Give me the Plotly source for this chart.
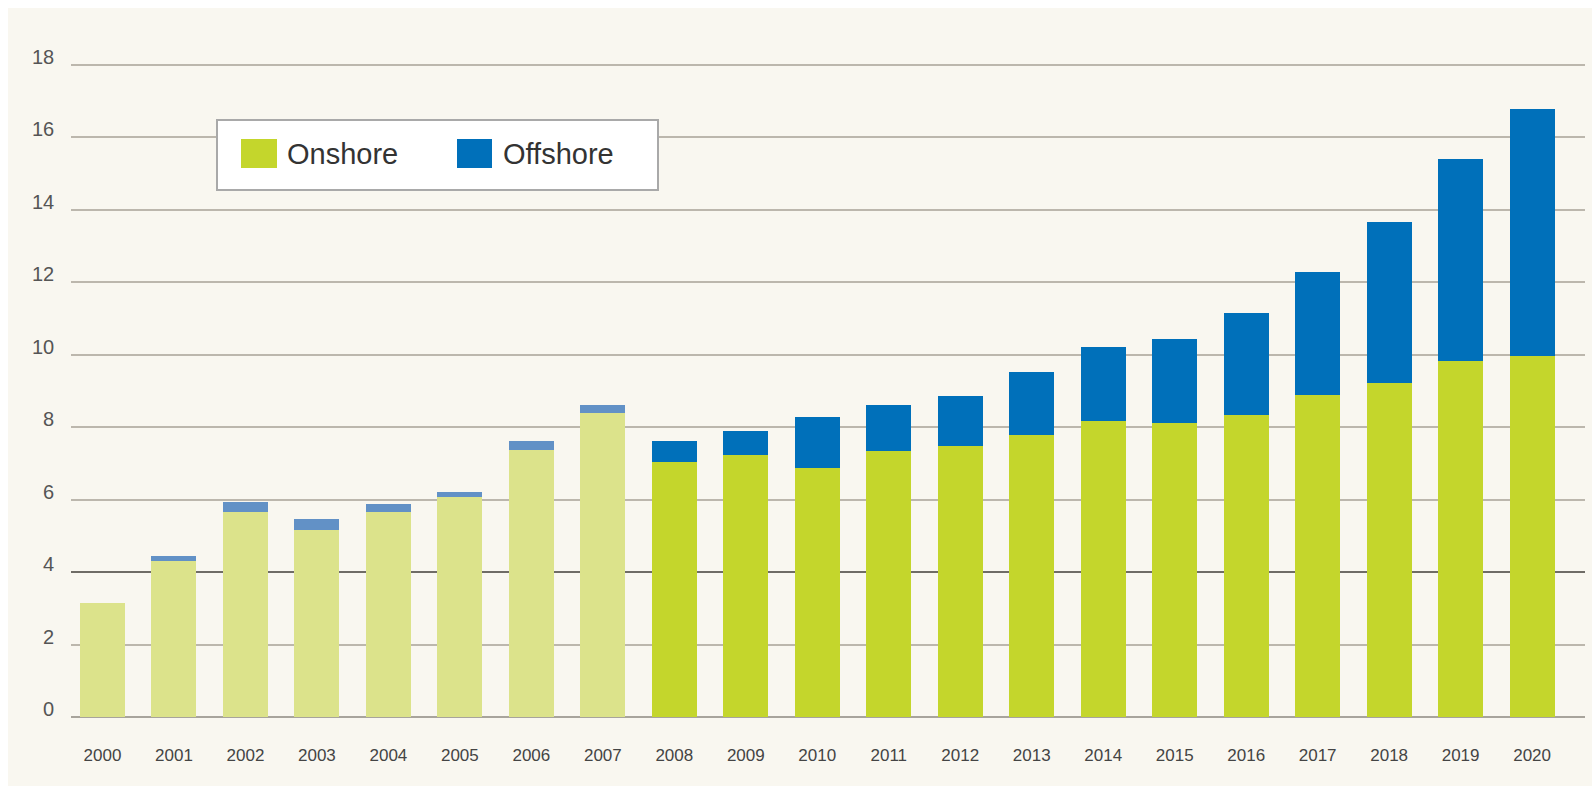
import plotly.graph_objects as go

# Annual installed wind capacity, split by onshore / offshore
years = list(range(2000, 2021))
onshore = [3.15, 4.30, 5.67, 5.17, 5.67, 6.07, 7.38, 8.39, 7.04, 7.22, 6.87,
           7.35, 7.47, 7.79, 8.18, 8.12, 8.34, 8.89, 9.23, 9.83, 9.97]
offshore = [0.00, 0.15, 0.26, 0.30, 0.20, 0.15, 0.24, 0.23, 0.58, 0.68, 1.42,
            1.27, 1.40, 1.74, 2.03, 2.32, 2.80, 3.38, 4.44, 5.58, 6.81]
y_ticks = [0, 2, 4, 6, 8, 10, 12, 14, 16, 18]
x_labels = [str(y) for y in years]
first_current_year = 2008  # earlier years drawn in muted tones

# Canvas geometry (pixels)
W, H = 1592, 789
L, R, T, B = 71, 7, 63, 72
PW, PH = W - L - R, H - T - B
X_RANGE = [1999.56, 2020.74]

ON_STRONG, ON_LIGHT = "#c4d62c", "#dce38b"
OFF_STRONG, OFF_LIGHT = "#0070ba", "#6291c6"
BG = "#f9f7f0"
GRID = "#bcb7ad"
SANS = "Liberation Sans, Arial, sans-serif"

on_colors = [ON_STRONG if y >= first_current_year else ON_LIGHT for y in years]
off_colors = [OFF_STRONG if y >= first_current_year else OFF_LIGHT for y in years]


def px(xp):
    return (xp - L) / PW


def py(yp):
    return (H - B - yp) / PH


fig = go.Figure()
fig.add_trace(go.Bar(x=years, y=onshore, name="Onshore", width=0.63,
                     marker=dict(color=on_colors, line=dict(width=0)),
                     showlegend=False))
fig.add_trace(go.Bar(x=years, y=offshore, name="Offshore", width=0.63,
                     marker=dict(color=off_colors, line=dict(width=0)),
                     showlegend=False))

shapes = [
    # cream panel behind everything
    dict(type="rect", xref="paper", yref="paper", layer="below",
         x0=px(8), x1=px(W + 5), y0=py(786), y1=py(8),
         fillcolor=BG, line=dict(width=0)),
    # emphasised 4 line, above the grid but under the bars
    dict(type="line", xref="x", yref="y", layer="between",
         x0=X_RANGE[0], x1=X_RANGE[1], y0=4, y1=4,
         line=dict(color="#6f6c66", width=2)),
    # legend box
    dict(type="rect", xref="paper", yref="paper", layer="above",
         x0=px(217), x1=px(658), y0=py(190), y1=py(120),
         fillcolor="#ffffff", line=dict(color="#a9a9a9", width=2)),
    dict(type="rect", xref="paper", yref="paper", layer="above",
         x0=px(241), x1=px(277), y0=py(168), y1=py(139),
         fillcolor=ON_STRONG, line=dict(width=0)),
    dict(type="rect", xref="paper", yref="paper", layer="above",
         x0=px(457), x1=px(492), y0=py(168), y1=py(139),
         fillcolor=OFF_STRONG, line=dict(width=0)),
]

annotations = [
    dict(text="Onshore", xref="paper", yref="paper", x=px(285), y=py(154),
         xanchor="left", yanchor="middle", showarrow=False,
         font=dict(family=SANS, size=29, color="#333333")),
    dict(text="Offshore", xref="paper", yref="paper", x=px(501), y=py(154),
         xanchor="left", yanchor="middle", showarrow=False,
         font=dict(family=SANS, size=29, color="#333333")),
]
# y tick labels sit slightly above their grid lines
for v in y_ticks:
    annotations.append(dict(text=str(v), xref="paper", yref="y", x=px(56), y=v,
                            xanchor="right", yanchor="middle", yshift=8,
                            showarrow=False,
                            font=dict(family=SANS, size=20, color="#555555")))

fig.update_layout(
    width=W, height=H,
    margin=dict(l=L, r=R, t=T, b=B, pad=0),
    barmode="stack",
    paper_bgcolor="#ffffff",
    plot_bgcolor="rgba(0,0,0,0)",
    shapes=shapes,
    annotations=annotations,
    xaxis=dict(range=X_RANGE, tickmode="array", tickvals=years,
               ticktext=x_labels, showgrid=False, zeroline=False,
               showline=False, ticks="", ticklabelstandoff=26,
               tickfont=dict(family=SANS, size=17, color="#444444")),
    yaxis=dict(range=[0, 18.05], tickvals=y_ticks, showticklabels=False,
               showgrid=True, gridcolor=GRID, gridwidth=2,
               zeroline=True, zerolinecolor="#a8a49c", zerolinewidth=2,
               showline=False),
)

fig.write_html("out.html")
